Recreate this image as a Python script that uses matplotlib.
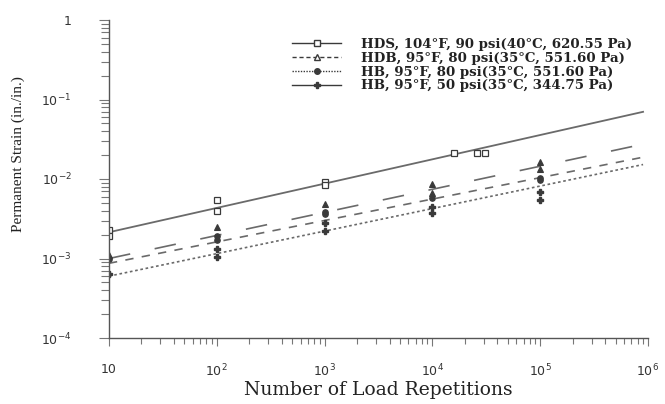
import matplotlib
matplotlib.use("Agg")
import matplotlib.pyplot as plt
from matplotlib.lines import Line2D
from matplotlib.ticker import LogLocator, FixedLocator, FixedFormatter, NullFormatter

# ---- data ----
series_labels = [
    "HDS, 104°F, 90 psi(40°C, 620.55 Pa)",
    "HDB, 95°F, 80 psi(35°C, 551.60 Pa)",
    "HB, 95°F, 80 psi(35°C, 551.60 Pa)",
    "HB, 95°F, 50 psi(35°C, 344.75 Pa)",
]

# measured points
hds_n = [10, 10, 100, 100, 1000, 1000, 16000, 26000, 31000]
hds_strain = [2.3e-3, 1.9e-3, 5.5e-3, 4.0e-3, 9.3e-3, 8.3e-3, 0.021, 0.021, 0.021]

hdb_n = [10, 100, 1000, 10000, 10000, 100000, 100000]
hdb_strain = [1.1e-3, 2.5e-3, 4.8e-3, 8.7e-3, 6.6e-3, 0.0162, 0.0132]

hb80_n = [10, 100, 100, 1000, 1000, 10000, 100000, 100000]
hb80_strain = [1.0e-3, 1.9e-3, 1.7e-3, 3.9e-3, 3.6e-3, 5.7e-3, 0.0104, 0.0096]

hb50_n = [10, 100, 100, 1000, 1000, 10000, 10000, 100000, 100000]
hb50_strain = [6.3e-4, 1.3e-3, 1.05e-3, 2.8e-3, 2.2e-3, 4.5e-3, 3.7e-3, 0.0068, 0.0055]

# fitted trend lines (end points)
fit_n = [10, 9e5]
hds_fit = [2.14e-3, 0.070]
hdb_fit = [1.0e-3, 0.0274]
hb80_fit = [8.7e-4, 0.0188]
hb50_fit = [6.0e-4, 0.0152]

x_ticks = [10, 1e2, 1e3, 1e4, 1e5, 1e6]
x_tick_labels = ["10", r"$10^{2}$", r"$10^{3}$", r"$10^{4}$", r"$10^{5}$", r"$10^{6}$"]
y_ticks = [1e-4, 1e-3, 1e-2, 1e-1, 1]
y_tick_labels = [r"$10^{-4}$", r"$10^{-3}$", r"$10^{-2}$", r"$10^{-1}$", "1"]

# ---- figure ----
fig = plt.figure(figsize=(6.65, 4.04), dpi=100)
ax = fig.add_axes([109/665, 1-338/404, (648-109)/665, (338-20)/404])

line_col = "#6a6a6a"
mk_col = "#3a3a3a"

ax.plot(fit_n, hds_fit, color=line_col, lw=1.3, ls="-")
ax.plot(fit_n, hdb_fit, color=line_col, lw=1.2, ls=(0, (13, 15)))
ax.plot(fit_n, hb80_fit, color=line_col, lw=1.2, ls=(0, (5, 5)))
ax.plot(fit_n, hb50_fit, color=line_col, lw=1.2, ls=(0, (1.6, 1.6)))

ax.plot(hds_n, hds_strain, ls="none", marker="s", ms=4.2, mfc="white", mec=mk_col, mew=0.9)
ax.plot(hdb_n, hdb_strain, ls="none", marker="^", ms=4.2, mfc=mk_col, mec=mk_col, mew=0.8)
ax.plot(hb80_n, hb80_strain, ls="none", marker="o", ms=3.8, mfc=mk_col, mec=mk_col)
ax.plot(hb50_n, hb50_strain, ls="none", marker="P", ms=3.8, mfc=mk_col, mec=mk_col)

ax.set_xscale("log")
ax.set_yscale("log")
ax.set_xlim(10, 1e6)
ax.set_ylim(1e-4, 1)

ax.xaxis.set_major_locator(FixedLocator(x_ticks))
ax.xaxis.set_major_formatter(FixedFormatter(x_tick_labels))
ax.yaxis.set_major_locator(FixedLocator(y_ticks))
ax.yaxis.set_major_formatter(FixedFormatter(y_tick_labels))
ax.xaxis.set_minor_locator(LogLocator(base=10, subs=range(2, 10), numticks=20))
ax.yaxis.set_minor_locator(LogLocator(base=10, subs=range(2, 10), numticks=20))
ax.xaxis.set_minor_formatter(NullFormatter())
ax.yaxis.set_minor_formatter(NullFormatter())

for s in ["top", "right"]:
    ax.spines[s].set_visible(False)
for s in ["left", "bottom"]:
    ax.spines[s].set_color("#555555")
    ax.spines[s].set_linewidth(1.0)

ax.tick_params(axis="both", which="both", direction="out", color="#777777", width=0.8,
               labelcolor="#333333")
ax.tick_params(axis="x", which="major", length=6, pad=12, labelsize=9)
ax.tick_params(axis="x", which="minor", length=4)
ax.tick_params(axis="y", which="major", length=7, pad=20, labelsize=9)
ax.tick_params(axis="y", which="minor", length=6)
for lab in ax.get_xticklabels() + ax.get_yticklabels():
    lab.set_family("DejaVu Sans")

ax.set_xlabel("Number of Load Repetitions", family="DejaVu Serif", fontsize=13.5,
              color="#222222")
ax.xaxis.set_label_coords(0.5, -0.135)
ax.set_ylabel("Permanent Strain (in./in.)", family="Liberation Serif", fontsize=11,
              color="#222222")
ax.yaxis.set_label_coords(-0.155, 0.579)

handles = [
    Line2D([], [], color=mk_col, lw=1.0, ls="-", marker="s", ms=4.5, mfc="white", mec=mk_col),
    Line2D([], [], color=mk_col, lw=1.0, ls=(0, (3, 2)), marker="^", ms=4.5, mfc="white", mec=mk_col),
    Line2D([], [], color=mk_col, lw=1.0, ls=(0, (1, 1)), marker="o", ms=4, mfc=mk_col, mec=mk_col),
    Line2D([], [], color=mk_col, lw=1.0, ls="-", marker="P", ms=4, mfc=mk_col, mec=mk_col),
]
leg = fig.legend(handles, series_labels, loc="upper left",
                 bbox_to_anchor=(292/665, 1-38/404), frameon=False,
                 prop={"family": "DejaVu Serif", "weight": "bold", "size": 9.6},
                 handlelength=3.7, handletextpad=1.5, labelspacing=0.06,
                 borderpad=0, borderaxespad=0)
for t in leg.get_texts():
    t.set_color("#222222")

fig.savefig("out.png", dpi=100)
